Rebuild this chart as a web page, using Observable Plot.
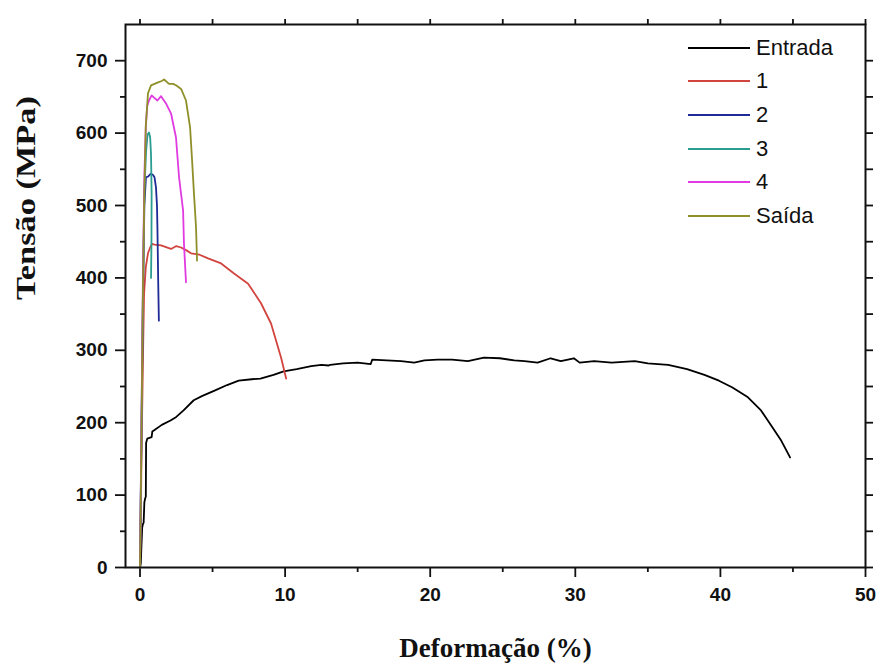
<!DOCTYPE html>
<html>
<head>
<meta charset="utf-8">
<script src="https://cdn.jsdelivr.net/npm/d3@7"></script>
<script src="https://cdn.jsdelivr.net/npm/@observablehq/plot@0.6"></script>
<style>
  html, body { margin: 0; padding: 0; background: #fff; }
  #wrap { position: relative; width: 877px; height: 666px; }
  #legend { position: absolute; left: 688px; top: 31px; font-family: "Liberation Sans", Arial, sans-serif; font-size: 22px; color: #111; }
  .item { display: flex; align-items: center; height: 33.6px; }
  .sw { width: 62px; height: 0; border-top: 2px solid; margin-right: 6px; }
</style>
</head>
<body>
<div id="wrap"><div id="legend"></div></div>
<script>
const seriesNames = ["Entrada", "1", "2", "3", "4", "Saída"];
const seriesColors = ["#000000", "#d2453f", "#1e2a96", "#2a9d90", "#e03ae0", "#8f8f2a"];

const xEntrada = [0, 0.05, 0.1, 0.15, 0.2, 0.25, 0.3, 0.35, 0.4, 0.42, 0.5, 0.8, 0.85, 1.0, 1.5, 2.1, 2.5, 3.0, 3.7, 4.3, 5.1, 6.0, 6.8, 7.7, 8.3, 9.2, 9.9, 10.8, 11.8, 12.5, 13.0, 13.1, 14.0, 15.0, 15.9, 16.0, 17.0, 18.0, 18.9, 19.6, 20.5, 21.5, 22.6, 23.7, 24.8, 25.8, 26.5, 27.4, 28.3, 29.0, 29.9, 30.3, 31.3, 32.5, 34.1, 35.0, 36.4, 37.7, 38.9, 39.9, 40.8, 41.9, 42.8, 43.5, 44.2, 44.8];
const yEntrada = [0, 5, 30, 55, 60, 62, 90, 95, 98, 172, 178, 180, 188, 190, 197, 203, 208, 217, 231, 237, 244, 252, 258, 260, 261, 266, 271, 274, 278, 280, 279, 280, 282, 283, 281, 287, 286, 285, 283, 286, 287, 287, 285, 290, 289, 286, 285, 283, 289, 285, 289, 283, 285, 283, 285, 282, 280, 274, 266, 258, 249, 235, 217, 196, 175, 152];

const x1 = [0, 0.05, 0.1, 0.2, 0.28, 0.4, 0.55, 0.7, 0.83, 1.0, 1.45, 2.14, 2.5, 2.83, 3.2, 3.52, 4.1, 4.69, 5.59, 6.48, 7.45, 8.34, 9.03, 9.72, 10.07];
const y1 = [0, 60, 150, 286, 378, 415, 434, 442, 447, 446, 445, 440, 444, 442, 438, 434, 432, 427, 420, 406, 392, 365, 337, 290, 261];

const x2 = [0, 0.1, 0.2, 0.3, 0.41, 0.55, 0.75, 0.9, 1.0, 1.1, 1.17, 1.2, 1.25, 1.3];
const y2 = [0, 180, 360, 500, 539, 540, 544, 542, 539, 525, 500, 470, 400, 341];

const x3 = [0, 0.1, 0.2, 0.3, 0.42, 0.52, 0.62, 0.7, 0.76, 0.8, 0.79, 0.76];
const y3 = [0, 200, 380, 520, 575, 598, 601, 594, 570, 516, 450, 400];

const x4 = [0, 0.1, 0.2, 0.3, 0.4, 0.5, 0.62, 0.8, 0.97, 1.2, 1.45, 1.79, 2.14, 2.48, 2.69, 2.97, 3.03, 3.17];
const y4 = [0, 200, 400, 540, 610, 638, 645, 652, 649, 645, 651, 641, 627, 594, 539, 493, 447, 394];

const xSaida = [0, 0.1, 0.2, 0.3, 0.4, 0.55, 0.76, 1.0, 1.24, 1.5, 1.66, 2.0, 2.28, 2.48, 2.83, 3.17, 3.45, 3.59, 3.72, 3.86, 3.93];
const ySaida = [0, 180, 380, 520, 610, 655, 666, 668, 670, 672, 674, 668, 668, 666, 661, 645, 608, 562, 516, 470, 424];

const xMajor = [0, 10, 20, 30, 40, 50];
const xMinor = [5, 15, 25, 35, 45];
const yMajor = [0, 100, 200, 300, 400, 500, 600, 700];
const yMinor = [50, 150, 250, 350, 450, 550, 650];
const xTitle = "Deformação (%)";
const yTitle = "Tensão (MPa)";

const xs = [xEntrada, x1, x2, x3, x4, xSaida];
const ys = [yEntrada, y1, y2, y3, y4, ySaida];
const rows = [];
seriesNames.forEach((s, i) => xs[i].forEach((x, j) => rows.push({series: s, x, y: ys[i][j]})));

const tickFont = {fontFamily: "'Liberation Sans', Arial, sans-serif", fontWeight: "bold", fontSize: 19};
const titleFont = {fontFamily: "'Liberation Serif', 'Times New Roman', serif", fontWeight: "bold", fontSize: 27, fill: "#111"};

const chart = Plot.plot({
  width: 877,
  height: 666,
  marginLeft: 125,
  marginRight: 12,
  marginTop: 24,
  marginBottom: 99,
  x: {domain: [-1, 50]},
  y: {domain: [0, 750]},
  color: {domain: seriesNames, range: seriesColors},
  style: {background: "#fff", color: "#111"},
  marks: [
    Plot.axisX({ticks: xMajor, tickSize: 10, tickPadding: 10, strokeWidth: 1.8, label: null, ...tickFont}),
    Plot.axisX({ticks: xMinor, tickSize: 5, text: null, strokeWidth: 1.8, label: null}),
    Plot.axisX({anchor: "top", ticks: xMajor.concat(xMinor), tickSize: 6, text: null, strokeWidth: 1.8, label: null}),
    Plot.axisY({ticks: yMajor, tickSize: 10, tickPadding: 8, strokeWidth: 1.8, label: null, ...tickFont}),
    Plot.axisY({ticks: yMinor, tickSize: 5, text: null, strokeWidth: 1.8, label: null}),
    Plot.axisY({anchor: "right", ticks: yMajor.concat(yMinor), tickSize: 7, text: null, strokeWidth: 1.8, label: null}),
    Plot.line(rows, {x: "x", y: "y", z: "series", stroke: "series", strokeWidth: 1.8, curve: "linear"}),
    Plot.frame({stroke: "#111", strokeWidth: 2}),
    Plot.text([xTitle], {frameAnchor: "bottom", dy: 89, text: d => d, ...titleFont}),
    Plot.text([yTitle], {frameAnchor: "left", dx: -99, dy: 4, rotate: -90, text: d => d, className: "ytitle", ...titleFont})
  ]
});
d3.select(chart).selectAll(".ytitle text")
  .attr("textLength", 204)
  .attr("lengthAdjust", "spacingAndGlyphs");
const wrap = document.getElementById("wrap");
wrap.insertBefore(chart, wrap.firstChild);

const legend = document.getElementById("legend");
seriesNames.forEach((s, i) => {
  const it = document.createElement("div");
  it.className = "item";
  const sw = document.createElement("span");
  sw.className = "sw";
  sw.style.borderTopColor = seriesColors[i];
  const t = document.createElement("span");
  t.textContent = s;
  it.appendChild(sw); it.appendChild(t);
  legend.appendChild(it);
});
</script>
</body>
</html>
